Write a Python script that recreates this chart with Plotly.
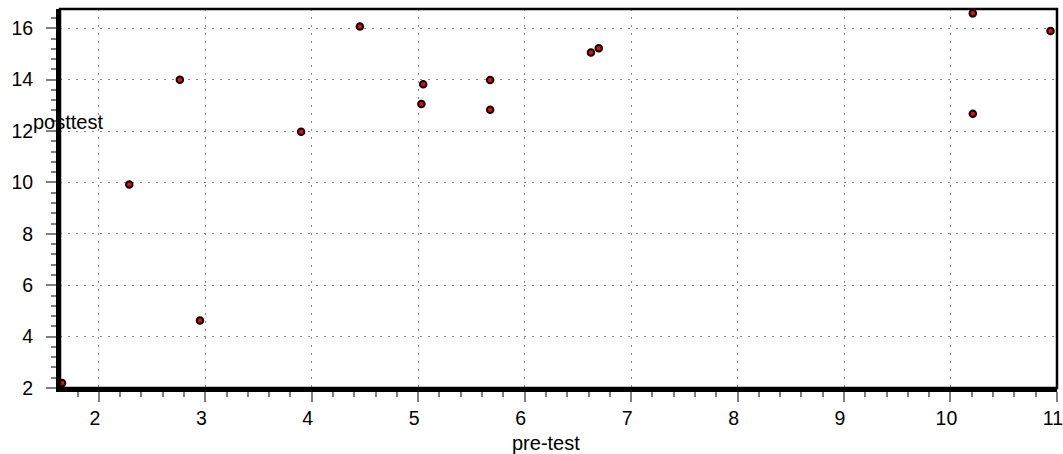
import plotly.graph_objects as go

pre_test = [1.654, 2.286, 2.761, 2.95, 3.90, 4.452, 5.03, 5.047, 5.676, 5.676, 6.623, 6.696, 10.21, 10.21, 10.94]
post_test = [2.19, 9.92, 14.0, 4.63, 11.97, 16.07, 13.05, 13.82, 13.99, 12.83, 15.06, 15.22, 16.58, 12.67, 15.89]

x_label = "pre-test"
y_label = "posttest"

FONT = "Liberation Sans, Arial, sans-serif"

fig = go.Figure()
fig.add_trace(go.Scatter(
    x=pre_test, y=post_test, mode="markers",
    marker=dict(size=6.5, color="#ff0000", line=dict(color="black", width=2)),
    cliponaxis=False, showlegend=False,
))

axis_common = dict(
    showline=True, linecolor="black", linewidth=4, mirror=False,
    showgrid=True, gridcolor="#8c8c8c", gridwidth=1, griddash="2px,6px",
    ticks="outside", tickcolor="#808080", tickwidth=1.5, ticklen=10,
    tickfont=dict(family=FONT, size=19.5, color="black"),
    zeroline=False, automargin=False,
)

fig.update_xaxes(
    range=[1.635, 11.001], dtick=1, tick0=0,
    minor=dict(dtick=0.2, ticks="outside", ticklen=5, tickcolor="#808080", tickwidth=1.5, showgrid=False),
    ticklabelshift=-4, ticklabeloverflow="allow",
    **axis_common,
)
fig.update_yaxes(
    range=[2, 16.75], dtick=2, tick0=0,
    minor=dict(dtick=0.4, ticks="outside", ticklen=5, tickcolor="#808080", tickwidth=1.5, showgrid=False),
    ticklabelstandoff=9,
    **axis_common,
)

fig.add_shape(type="rect", xref="paper", yref="paper", x0=0, x1=1, y0=0, y1=1,
              line=dict(color="black", width=2.5), layer="above")

fig.add_annotation(text=x_label, xref="paper", yref="paper", x=0.4875, y=-0.144,
                   xanchor="center", yanchor="middle", showarrow=False,
                   font=dict(family=FONT, size=20, color="black"))
fig.add_annotation(text=y_label, xref="paper", yref="paper", x=-0.0295, y=0.702,
                   xanchor="left", yanchor="middle", showarrow=False,
                   font=dict(family=FONT, size=20, color="black"))

fig.update_layout(
    width=1063, height=454,
    margin=dict(l=60, r=6, t=9, b=66, autoexpand=False),
    paper_bgcolor="white", plot_bgcolor="white",
    font=dict(family=FONT, size=19.5, color="black"),
)

fig.write_html("out.html", config={"displayModeBar": False},
               post_script="document.body.style.margin='0';document.body.style.overflow='hidden';")
